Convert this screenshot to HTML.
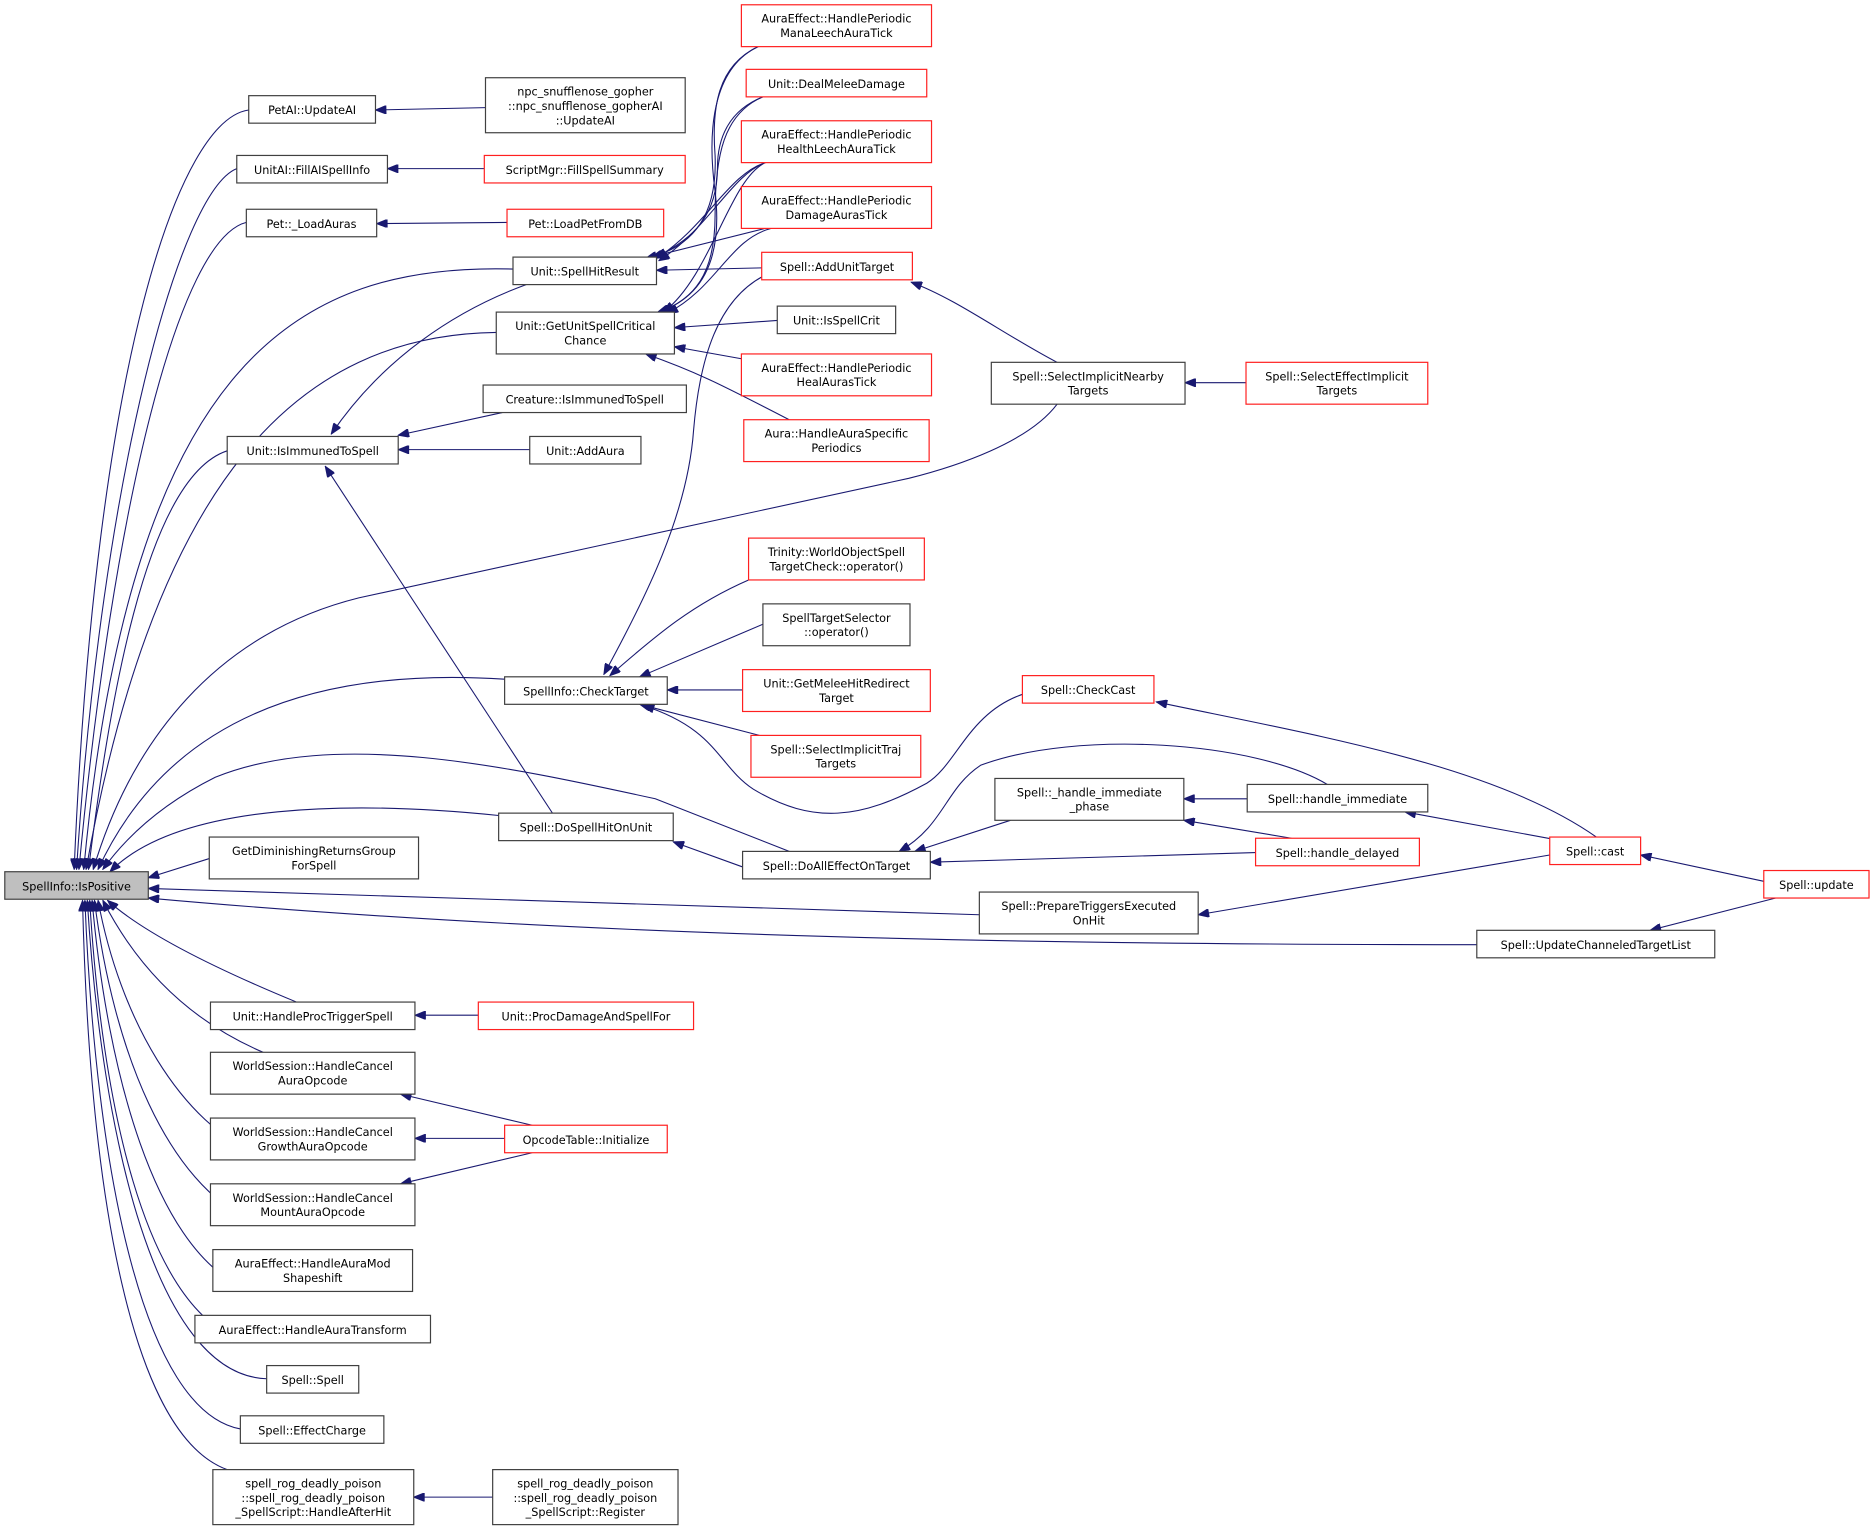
<!DOCTYPE html>
<html><head><meta charset="utf-8"><style>
html,body{margin:0;padding:0;background:#fff;}
svg{display:block}
text{font-family:"DejaVu Sans","Liberation Sans",sans-serif;font-size:9.4px;fill:#000;text-anchor:middle}
.n rect{fill:#fff;stroke:#404040;stroke-width:1}
.r rect{fill:#fff;stroke:#ff2020;stroke-width:1}
path{fill:none;stroke:#191970;stroke-width:0.9}
</style></head><body>
<svg width="1875" height="1530" viewBox="0 0 1568 1279.5" xmlns="http://www.w3.org/2000/svg">
<defs><marker id="a" viewBox="0 0 10 8" refX="10" refY="4" markerWidth="10" markerHeight="7" markerUnits="userSpaceOnUse" orient="auto"><path d="M0,0 L10,4 L0,8 z" style="fill:#191970;stroke:#191970"/></marker></defs>
<g marker-end="url(#a)">
<!-- to IsPositive -->
<path d="M208,92 C150,100 80,300 62,727"/>
<path d="M198,141 C150,160 85,400 64,727"/>
<path d="M206,186 C150,200 95,420 66,727"/>
<path d="M429,225 C250,220 110,300 70,727"/>
<path d="M415,278 C250,280 130,400 72,727"/>
<path d="M190,377 C120,400 90,600 74,727"/>
<path d="M884,338 C860,370 800,390 760,400 L300,500 C180,530 110,620 78,727"/>
<path d="M422,568 C300,560 150,580 82,727"/>
<path d="M660,712 L548,668 C420,640 280,610 180,650 Q120,680 86,727"/>
<path d="M417,682 C300,670 150,670 92,729"/>
<path d="M175,718 L124,734"/>
<path d="M819,765 L124,743"/>
<path d="M1235,790 C900,790 500,785 124,751"/>
<path d="M248,838 C180,810 120,780 90,753"/>
<path d="M220,880 C150,850 110,800 86,753"/>
<path d="M220,968 C150,940 100,850 82,753"/>
<path d="M212,1022 C140,990 95,880 79,753"/>
<path d="M200,1075 C130,1040 90,900 77,753"/>
<path d="M200,1120 C120,1090 85,920 75,753"/>
<path d="M223,1153 C130,1150 85,950 73,753"/>
<path d="M201,1195 C120,1180 80,980 71,753"/>
<path d="M190,1229 C110,1200 75,1000 69,753"/>
<!-- others -->
<path d="M406,90 L314,92"/>
<path d="M405,141 L324,141"/>
<path d="M424,186 L315,187"/>
<path d="M634,39 C600,55 595,90 598,130 C600,180 580,205 545,215"/>
<path d="M634,39 C600,55 590,100 598,160 C605,220 585,250 550,261"/>
<path d="M638,81 C610,92 600,115 600,140 C600,180 580,200 548,215"/>
<path d="M638,81 C605,95 598,130 598,180 C598,230 580,250 552,261"/>
<path d="M640,136 C610,145 590,190 549,216"/>
<path d="M640,136 C612,146 592,192 551,218"/>
<path d="M640,136 C610,150 595,230 555,261"/>
<path d="M640,191 L540,216"/>
<path d="M645,191 C610,200 600,240 558,262"/>
<path d="M637,224 L549,226"/>
<path d="M650,268 L564,274"/>
<path d="M620,300 L564,290"/>
<path d="M660,351 C600,320 580,310 540,296"/>
<path d="M640,230 C600,250 585,300 580,360 C575,430 540,500 505,564"/>
<path d="M440,238 C380,260 320,300 277,363"/>
<path d="M420,345 L333,364"/>
<path d="M443,376 L333,376"/>
<path d="M462,680 L272,390"/>
<path d="M626,485 C580,505 550,530 510,565"/>
<path d="M638,522 L535,566"/>
<path d="M621,577 L558,577"/>
<path d="M635,615 L535,589"/>
<path d="M857,580 C810,595 800,640 775,655 C720,685 680,690 630,660 C600,640 600,610 538,590"/>
<path d="M884,303 C840,280 800,250 762,236"/>
<path d="M1042,320 L991,320"/>
<path d="M1335,700 C1250,640 1100,615 967,587"/>
<path d="M1043,668 L990,668"/>
<path d="M1080,701 L990,686"/>
<path d="M1050,713 L778,721"/>
<path d="M845,686 L765,712"/>
<path d="M1110,656 C1050,620 900,610 820,640 C790,660 790,690 752,712"/>
<path d="M621,725 L563,704"/>
<path d="M1300,702 L1175,679"/>
<path d="M1296,715 L1002,765"/>
<path d="M1475,737 L1372,715"/>
<path d="M1485,751 L1380,778"/>
<path d="M400,849 L347,849"/>
<path d="M445,941 L335,915"/>
<path d="M422,952 L347,952"/>
<path d="M445,964 L335,990"/>
<path d="M412,1252 L346,1252"/>
</g>

<g class="n"><rect x="4" y="729" width="120" height="23" style="fill:#bfbfbf"/><text x="64" y="744.5">SpellInfo::IsPositive</text></g>
<g class="n"><rect x="208" y="80" width="106" height="23"/><text x="261" y="95.5">PetAI::UpdateAI</text></g>
<g class="n"><rect x="406" y="65" width="167" height="46"/><text x="489.5" y="80">npc_snufflenose_gopher</text><text x="489.5" y="92">::npc_snufflenose_gopherAI</text><text x="489.5" y="104">::UpdateAI</text></g>
<g class="n"><rect x="198" y="130" width="126" height="23"/><text x="261" y="145.5">UnitAI::FillAISpellInfo</text></g>
<g class="r"><rect x="405" y="130" width="168" height="23"/><text x="489" y="145.5">ScriptMgr::FillSpellSummary</text></g>
<g class="n"><rect x="206" y="175" width="109" height="23"/><text x="260.5" y="190.5">Pet::_LoadAuras</text></g>
<g class="r"><rect x="424" y="175" width="131" height="23"/><text x="489.5" y="190.5">Pet::LoadPetFromDB</text></g>
<g class="n"><rect x="429" y="215" width="120" height="23"/><text x="489" y="230.5">Unit::SpellHitResult</text></g>
<g class="n"><rect x="415" y="261" width="149" height="35"/><text x="489.5" y="276">Unit::GetUnitSpellCritical</text><text x="489.5" y="288">Chance</text></g>
<g class="n"><rect x="190" y="365" width="143" height="23"/><text x="261.5" y="380.5">Unit::IsImmunedToSpell</text></g>
<g class="n"><rect x="404" y="322" width="170" height="23"/><text x="489" y="337.5">Creature::IsImmunedToSpell</text></g>
<g class="n"><rect x="443" y="365" width="93" height="23"/><text x="489.5" y="380.5">Unit::AddAura</text></g>
<g class="r"><rect x="620" y="4" width="159" height="35"/><text x="699.5" y="19">AuraEffect::HandlePeriodic</text><text x="699.5" y="31">ManaLeechAuraTick</text></g>
<g class="r"><rect x="624" y="58" width="151" height="23"/><text x="699.5" y="73.5">Unit::DealMeleeDamage</text></g>
<g class="r"><rect x="620" y="101" width="159" height="35"/><text x="699.5" y="116">AuraEffect::HandlePeriodic</text><text x="699.5" y="128">HealthLeechAuraTick</text></g>
<g class="r"><rect x="620" y="156" width="159" height="35"/><text x="699.5" y="171">AuraEffect::HandlePeriodic</text><text x="699.5" y="183">DamageAurasTick</text></g>
<g class="r"><rect x="637" y="211" width="126" height="23"/><text x="700" y="226.5">Spell::AddUnitTarget</text></g>
<g class="n"><rect x="650" y="256" width="99" height="23"/><text x="699.5" y="271.5">Unit::IsSpellCrit</text></g>
<g class="r"><rect x="620" y="296" width="159" height="35"/><text x="699.5" y="311">AuraEffect::HandlePeriodic</text><text x="699.5" y="323">HealAurasTick</text></g>
<g class="r"><rect x="622" y="351" width="155" height="35"/><text x="699.5" y="366">Aura::HandleAuraSpecific</text><text x="699.5" y="378">Periodics</text></g>
<g class="n"><rect x="829" y="303" width="162" height="35"/><text x="910" y="318">Spell::SelectImplicitNearby</text><text x="910" y="330">Targets</text></g>
<g class="r"><rect x="1042" y="303" width="152" height="35"/><text x="1118" y="318">Spell::SelectEffectImplicit</text><text x="1118" y="330">Targets</text></g>
<g class="r"><rect x="626" y="450" width="147" height="35"/><text x="699.5" y="465">Trinity::WorldObjectSpell</text><text x="699.5" y="477">TargetCheck::operator()</text></g>
<g class="n"><rect x="638" y="505" width="123" height="35"/><text x="699.5" y="520">SpellTargetSelector</text><text x="699.5" y="532">::operator()</text></g>
<g class="r"><rect x="621" y="560" width="157" height="35"/><text x="699.5" y="575">Unit::GetMeleeHitRedirect</text><text x="699.5" y="587">Target</text></g>
<g class="r"><rect x="628" y="615" width="142" height="35"/><text x="699" y="630">Spell::SelectImplicitTraj</text><text x="699" y="642">Targets</text></g>
<g class="n"><rect x="422" y="566" width="136" height="23"/><text x="490" y="581.5">SpellInfo::CheckTarget</text></g>
<g class="r"><rect x="855" y="565" width="110" height="23"/><text x="910" y="580.5">Spell::CheckCast</text></g>
<g class="n"><rect x="832" y="651" width="158" height="35"/><text x="911" y="666">Spell::_handle_immediate</text><text x="911" y="678">_phase</text></g>
<g class="n"><rect x="1043" y="656" width="151" height="23"/><text x="1118.5" y="671.5">Spell::handle_immediate</text></g>
<g class="r"><rect x="1050" y="701" width="137" height="23"/><text x="1118.5" y="716.5">Spell::handle_delayed</text></g>
<g class="n"><rect x="417" y="680" width="146" height="23"/><text x="490" y="695.5">Spell::DoSpellHitOnUnit</text></g>
<g class="n"><rect x="175" y="700" width="175" height="35"/><text x="262.5" y="715">GetDiminishingReturnsGroup</text><text x="262.5" y="727">ForSpell</text></g>
<g class="n"><rect x="621" y="712" width="157" height="23"/><text x="699.5" y="727.5">Spell::DoAllEffectOnTarget</text></g>
<g class="r"><rect x="1296" y="700" width="76" height="23"/><text x="1334" y="715.5">Spell::cast</text></g>
<g class="r"><rect x="1475" y="728" width="88" height="23"/><text x="1519" y="743.5">Spell::update</text></g>
<g class="n"><rect x="819" y="746" width="183" height="35"/><text x="910.5" y="761">Spell::PrepareTriggersExecuted</text><text x="910.5" y="773">OnHit</text></g>
<g class="n"><rect x="1235" y="778" width="199" height="23"/><text x="1334.5" y="793.5">Spell::UpdateChanneledTargetList</text></g>
<g class="n"><rect x="176" y="838" width="171" height="23"/><text x="261.5" y="853.5">Unit::HandleProcTriggerSpell</text></g>
<g class="r"><rect x="400" y="838" width="180" height="23"/><text x="490" y="853.5">Unit::ProcDamageAndSpellFor</text></g>
<g class="n"><rect x="176" y="880" width="171" height="35"/><text x="261.5" y="895">WorldSession::HandleCancel</text><text x="261.5" y="907">AuraOpcode</text></g>
<g class="n"><rect x="176" y="935" width="171" height="35"/><text x="261.5" y="950">WorldSession::HandleCancel</text><text x="261.5" y="962">GrowthAuraOpcode</text></g>
<g class="r"><rect x="422" y="941" width="136" height="23"/><text x="490" y="956.5">OpcodeTable::Initialize</text></g>
<g class="n"><rect x="176" y="990" width="171" height="35"/><text x="261.5" y="1005">WorldSession::HandleCancel</text><text x="261.5" y="1017">MountAuraOpcode</text></g>
<g class="n"><rect x="178" y="1045" width="167" height="35"/><text x="261.5" y="1060">AuraEffect::HandleAuraMod</text><text x="261.5" y="1072">Shapeshift</text></g>
<g class="n"><rect x="163" y="1100" width="197" height="23"/><text x="261.5" y="1115.5">AuraEffect::HandleAuraTransform</text></g>
<g class="n"><rect x="223" y="1142" width="77" height="23"/><text x="261.5" y="1157.5">Spell::Spell</text></g>
<g class="n"><rect x="201" y="1184" width="120" height="23"/><text x="261" y="1199.5">Spell::EffectCharge</text></g>
<g class="n"><rect x="178" y="1229" width="168" height="46"/><text x="262" y="1244">spell_rog_deadly_poison</text><text x="262" y="1256">::spell_rog_deadly_poison</text><text x="262" y="1268">_SpellScript::HandleAfterHit</text></g>
<g class="n"><rect x="412" y="1229" width="155" height="46"/><text x="489.5" y="1244">spell_rog_deadly_poison</text><text x="489.5" y="1256">::spell_rog_deadly_poison</text><text x="489.5" y="1268">_SpellScript::Register</text></g>
</svg>
</body></html>
